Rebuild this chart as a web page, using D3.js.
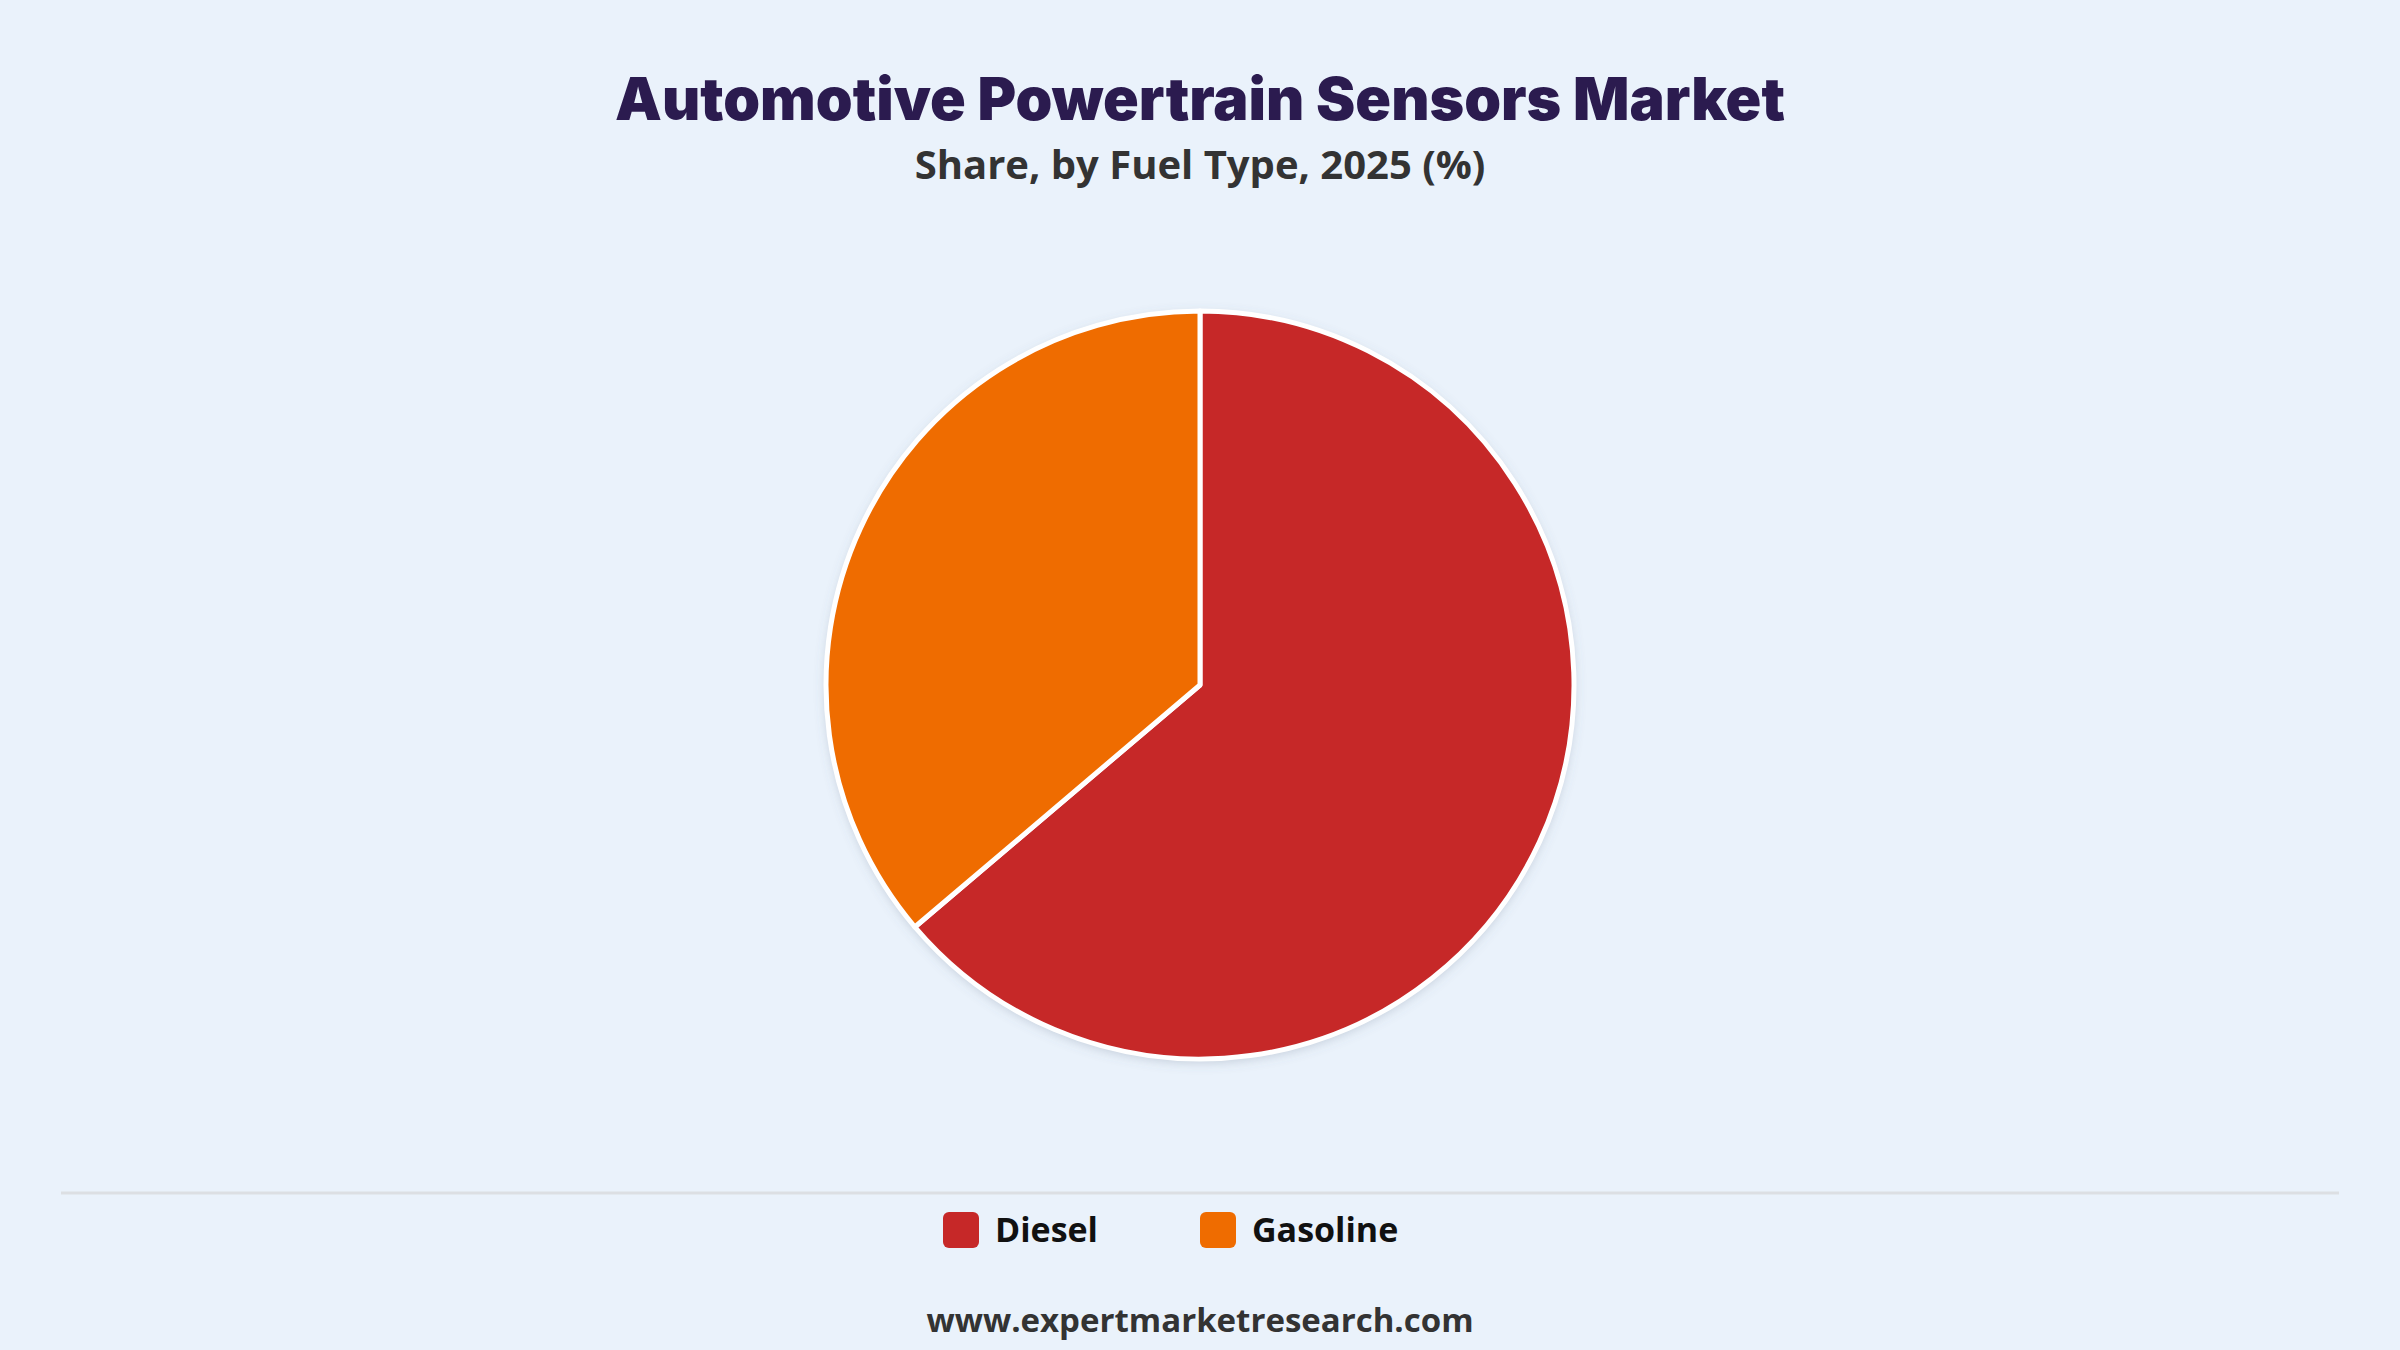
<!DOCTYPE html>
<html lang="en">
<head>
  <meta charset="UTF-8">
  <title>Automotive Powertrain Sensors Market</title>
  <script src="https://d3js.org/d3.v7.min.js"></script>
  <style>
    html, body { margin: 0; padding: 0; background: #eaf2fb; }
    #chart { width: 2400px; height: 1350px; }
  </style>
</head>
<body>
  <div id="chart"></div>

  <script>
    // data
    const categories = ["Diesel", "Gasoline"];
    const shares = [63.8, 36.2];
    const colors = ["#c62828", "#ef6c00"];
    const title = "Automotive Powertrain Sensors Market";
    const subtitle = "Share, by Fuel Type, 2025 (%)";
    const source = "www.expertmarketresearch.com";

    const width = 2400, height = 1350;
    const cx = 1200, cy = 685, radius = 374;

    const svg = d3.select("#chart").append("svg")
                  .attr("width", width)
                  .attr("height", height);

    svg.append("rect")
       .attr("width", width)
       .attr("height", height)
       .attr("fill", "#eaf2fb");

    const defs = svg.append("defs");
    const shadow = defs.append("filter")
                       .attr("id", "pieShadow")
                       .attr("x", "-20%").attr("y", "-20%")
                       .attr("width", "140%").attr("height", "140%");
    shadow.append("feDropShadow")
          .attr("dx", 0).attr("dy", 3)
          .attr("stdDeviation", 6)
          .attr("flood-color", "#5a6b80")
          .attr("flood-opacity", 0.3);

    // titles
    svg.append("text")
       .attr("x", cx).attr("y", 120)
       .attr("text-anchor", "middle")
       .attr("font-family", "Inter, Lato, 'Noto Sans', sans-serif")
       .attr("font-weight", 900)
       .attr("font-size", 59)
       .attr("fill", "#2b1b4f")
       .text(title);

    svg.append("text")
       .attr("x", cx).attr("y", 179)
       .attr("text-anchor", "middle")
       .attr("font-family", "'Open Sans', 'Noto Sans', sans-serif")
       .attr("font-weight", 700)
       .attr("font-size", 40)
       .attr("fill", "#333333")
       .text(subtitle);

    // pie
    const data = categories.map((c, i) => ({ name: c, value: shares[i], color: colors[i] }));
    const pie = d3.pie().sort(null).value(d => d.value);
    const arc = d3.arc().innerRadius(0).outerRadius(radius);

    const g = svg.append("g")
                 .attr("transform", `translate(${cx}, ${cy})`);

    g.append("circle")
     .attr("r", radius)
     .attr("fill", "#ffffff")
     .attr("filter", "url(#pieShadow)");

    g.selectAll("path")
     .data(pie(data))
     .enter().append("path")
     .attr("d", arc)
     .attr("fill", d => d.data.color)
     .attr("stroke", "#ffffff")
     .attr("stroke-width", 5)
     .attr("stroke-linejoin", "round");

    // separator
    svg.append("line")
       .attr("x1", 61).attr("x2", 2339)
       .attr("y1", 1193).attr("y2", 1193)
       .attr("stroke", "#dcdfe3")
       .attr("stroke-width", 3);

    // legend
    const legendX = d3.scaleOrdinal().domain(categories).range([943, 1200]);
    const legend = svg.append("g");
    const items = legend.selectAll("g")
                        .data(data)
                        .enter().append("g")
                        .attr("transform", d => `translate(${legendX(d.name)}, 1212)`);
    items.append("rect")
         .attr("width", 36).attr("height", 36)
         .attr("rx", 6).attr("ry", 6)
         .attr("fill", d => d.color);
    items.append("text")
         .attr("x", 52).attr("y", 30)
         .attr("font-family", "'Open Sans', 'Noto Sans', sans-serif")
         .attr("font-weight", 700)
         .attr("font-size", 34)
         .attr("fill", "#111111")
         .text(d => d.name);

    // source
    svg.append("text")
       .attr("x", cx).attr("y", 1332)
       .attr("text-anchor", "middle")
       .attr("font-family", "'Open Sans', 'Noto Sans', sans-serif")
       .attr("font-weight", 700)
       .attr("font-size", 33)
       .attr("fill", "#333333")
       .text(source);
  </script>
</body>
</html>
